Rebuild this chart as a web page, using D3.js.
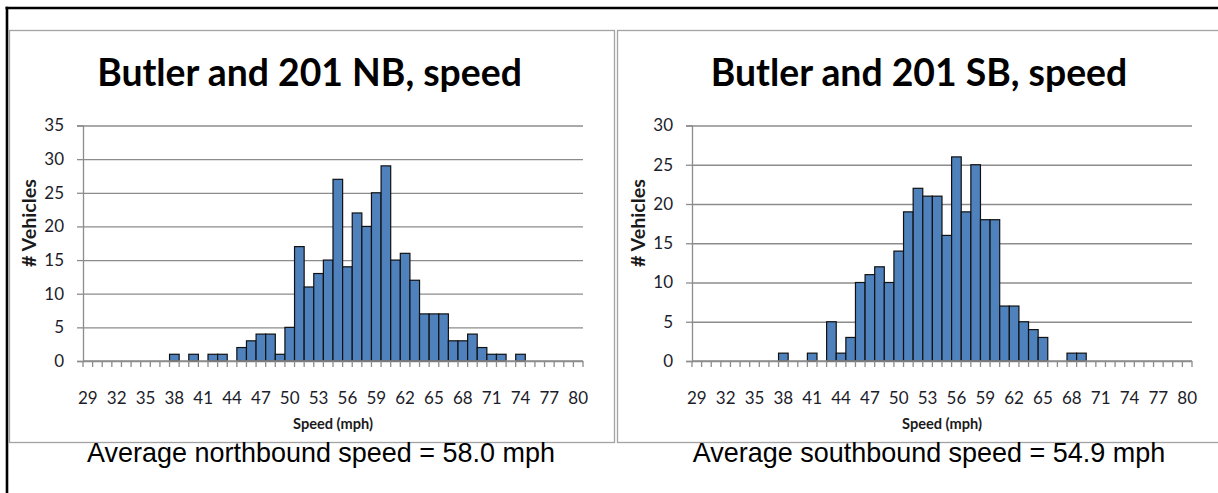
<!DOCTYPE html>
<html><head><meta charset="utf-8">
<script src="https://cdn.jsdelivr.net/npm/d3@7"></script>
<style>body{margin:0;background:#fff} svg{display:block}</style>
</head><body>
<svg id="c" width="1218" height="493"></svg>
<script>
// ---- data ----
const speeds = [29,30,31,32,33,34,35,36,37,38,39,40,41,42,43,44,45,46,47,48,49,50,51,52,53,54,55,56,57,58,59,60,61,62,63,64,65,66,67,68,69,70,71,72,73,74,75,76,77,78,79,80];
const tickLabels = [29,32,35,38,41,44,47,50,53,56,59,62,65,68,71,74,77,80];
// northbound counts, speeds 29..80
const nbCounts = [0,0,0,0,0,0,0,0,0,1,0,1,0,1,1,0,2,3,4,4,1,5,17,11,13,15,27,14,22,20,25,29,15,16,12,7,7,7,3,3,4,2,1,1,0,1,0,0,0,0,0,0];
// southbound counts, speeds 29..80
const sbCounts = [0,0,0,0,0,0,0,0,0,1,0,0,1,0,5,1,3,10,11,12,10,14,19,22,21,21,16,26,19,25,18,18,7,7,5,4,3,0,0,1,1,0,0,0,0,0,0,0,0,0,0,0];
const nbYTicks = [0,5,10,15,20,25,30,35];
const sbYTicks = [0,5,10,15,20,25,30];
const chartTitles = ["Butler and 201 NB, speed", "Butler and 201 SB, speed"];
const averageTexts = ["Average northbound speed = 58.0 mph", "Average southbound speed = 54.9 mph"];
const xAxisTitle = "Speed (mph)";
const yAxisTitle = "# Vehicles";

// ---- layout ----
const svg = d3.select("#c");
const BAR = "#4F81BD", GRID = "#8c8c8c", FRAME = "#a3a3a3";
const sans = "Lato, 'Open Sans', sans-serif";

function fit(sel, target) {
  const n = sel.node();
  const fs = parseFloat(sel.attr("font-size"));
  const w = n.getComputedTextLength();
  sel.attr("font-size", (fs * target / w).toFixed(2));
  return fs * target / w;
}

const panels = [
  {counts: nbCounts, yTicks: nbYTicks, yMax: 35, x0: 83, x1: 583, frame: [9.5, 30.5, 614.5, 442.5],
   titleX: 309.5, avgX: 321, yTitleX: 30, title: chartTitles[0], avg: averageTexts[0]},
  {counts: sbCounts, yTicks: sbYTicks, yMax: 30, x0: 692, x1: 1192, frame: [617.5, 30.5, 1240, 442.5],
   titleX: 919, avgX: 929, yTitleX: 638.5, title: chartTitles[1], avg: averageTexts[1]}
];

let titleSize = null, avgSize = null, xtSize = null, ytSize = null;
panels.forEach((p, pi) => {
  const g = svg.append("g");
  // frame
  g.append("rect").attr("x", p.frame[0]).attr("y", p.frame[1])
    .attr("width", p.frame[2] - p.frame[0]).attr("height", p.frame[3] - p.frame[1])
    .attr("fill", "none").attr("stroke", FRAME).attr("stroke-width", 1.3);

  const x = d3.scaleBand().domain(speeds).range([p.x0, p.x1]).padding(0);
  const y = d3.scaleLinear().domain([0, p.yMax]).range([361, 125.5]);

  // gridlines + y axis
  const ya = g.append("g").attr("transform", `translate(${p.x0},0)`)
    .call(d3.axisLeft(y).tickValues(p.yTicks).tickSize(6).tickPadding(13));
  ya.select(".domain").attr("stroke", GRID).attr("stroke-width", 1.3);
  ya.selectAll(".tick line").attr("stroke", GRID).attr("stroke-width", 1.3);
  ya.selectAll(".tick text").attr("font-family", sans).attr("font-size", 17).attr("fill", "#1c1c2a");
  const gg = g.append("g").attr("transform", `translate(${p.x0},0)`)
    .call(d3.axisLeft(y).tickValues(p.yTicks).tickSize(-(p.x1 - p.x0)).tickFormat(""));
  gg.select(".domain").remove();
  gg.selectAll(".tick line").attr("stroke", GRID).attr("stroke-width", 1.3);

  // bars
  g.append("g").selectAll("rect").data(p.counts.map((c, i) => ({s: speeds[i], c}))).join("rect")
    .filter(d => d.c > 0)
    .attr("x", d => x(d.s)).attr("width", x.bandwidth())
    .attr("y", d => y(d.c)).attr("height", d => y(0) - y(d.c))
    .attr("fill", BAR).attr("stroke", "#111").attr("stroke-width", 1.2);

  // x axis: line, boundary ticks, labels
  const xa = g.append("g").attr("transform", "translate(0,361)");
  xa.append("line").attr("x1", p.x0).attr("x2", p.x1).attr("stroke", GRID).attr("stroke-width", 1.3);
  xa.selectAll("line.tk").data(speeds.concat([null])).join("line").attr("class", "tk")
    .attr("x1", (d, i) => i < speeds.length ? x(d) : p.x1)
    .attr("x2", (d, i) => i < speeds.length ? x(d) : p.x1)
    .attr("y1", 0).attr("y2", 6).attr("stroke", GRID).attr("stroke-width", 1.3);
  const xl = g.append("g").attr("transform", "translate(0,361)")
    .call(d3.axisBottom(x).tickValues(tickLabels).tickSize(0).tickPadding(43));
  xl.select(".domain").remove();
  xl.selectAll(".tick text").attr("font-family", sans).attr("font-size", 17).attr("fill", "#1c1c2a")
    .attr("dy", "0");

  // titles
  const t = g.append("text").attr("x", p.titleX).attr("y", 86).attr("text-anchor", "middle")
    .attr("font-family", sans).attr("font-weight", "bold").attr("font-size", 32).attr("fill", "#000")
    .text(p.title);
  if (titleSize === null) titleSize = fit(t, 425); else t.attr("font-size", titleSize);

  const xt = g.append("text").attr("x", (p.x0 + p.x1) / 2).attr("y", 429).attr("text-anchor", "middle")
    .attr("font-family", sans).attr("font-weight", "bold").attr("font-size", 16).attr("fill", "#1a1a1a")
    .text(xAxisTitle);
  if (xtSize === null) xtSize = fit(xt, 80); else xt.attr("font-size", xtSize);

  const yt = g.append("text").attr("transform", `translate(${p.yTitleX + 6},223) rotate(-90)`).attr("text-anchor", "middle")
    .attr("font-family", sans).attr("font-weight", "bold").attr("font-size", 16).attr("fill", "#1a1a1a")
    .text(yAxisTitle);
  if (ytSize === null) ytSize = fit(yt, 88); else yt.attr("font-size", ytSize);

  const a = g.append("text").attr("x", p.avgX).attr("y", 462).attr("text-anchor", "middle")
    .attr("font-family", "'Liberation Sans', Arial, sans-serif").attr("font-size", 24).attr("fill", "#000")
    .text(p.avg);
  if (avgSize === null) avgSize = fit(a, 468); else a.attr("font-size", avgSize);
});

// outer black border
svg.append("line").attr("x1", 5.5).attr("x2", 1218).attr("y1", 8).attr("y2", 8).attr("stroke", "#000").attr("stroke-width", 2.6);
svg.append("line").attr("x1", 7).attr("x2", 7).attr("y1", 6.7).attr("y2", 493).attr("stroke", "#000").attr("stroke-width", 2.6);
</script>
</body></html>
